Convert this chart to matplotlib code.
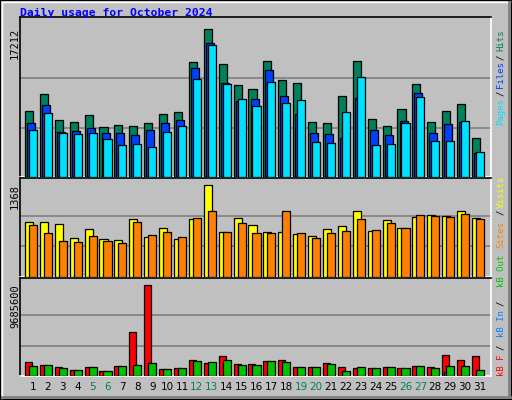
"""Webalizer-style daily usage chart for October 2024."""

import matplotlib
matplotlib.use("Agg")
import matplotlib.pyplot as plt
from matplotlib.patches import Rectangle
import numpy as np

days = list(range(1, 32))
weekend_days = [5, 6, 12, 13, 19, 20, 26, 27]

hits = [7676, 9653, 6629, 6397, 7211, 5815, 6048, 5931, 6280, 7327, 7560,
        13375, 17212, 13142, 10700, 10234, 13491, 11281, 10932, 6397, 6280,
        9420, 13491, 6745, 5931, 7908, 10816, 6397, 7676, 8490, 4536]
files = [6280, 8374, 5234, 5350, 5699, 5117, 5117, 4885, 5466, 6280, 6629,
         12677, 15584, 10932, 8839, 9071, 12444, 9420, 7327, 5117, 5001,
         4536, 9188, 5466, 4885, 6513, 9769, 5117, 6164, 6397, 2791]
pages = [5466, 7443, 5117, 5001, 5117, 4419, 3722, 3838, 3489, 5234, 5931,
         11397, 15352, 10816, 9071, 8257, 11049, 8606, 8955, 4071, 3954,
         7560, 11630, 3722, 3838, 6280, 9304, 4187, 4187, 6513, 2908]

visits = [818, 818, 788, 580, 714, 565, 550, 862, 595, 729, 565, 862, 1368,
          669, 877, 773, 669, 669, 639, 610, 714, 758, 981, 684, 848, 729,
          892, 922, 907, 981, 877]
sites = [773, 654, 535, 520, 610, 535, 506, 818, 625, 669, 595, 877, 981,
         669, 803, 654, 654, 981, 654, 580, 654, 684, 862, 699, 803, 729,
         922, 907, 892, 937, 862]

kb_f = [1490090, 1170785, 957915, 638610, 957915, 532175, 1064350, 4683140,
        9685600, 745045, 851480, 1702960, 1383655, 2128700, 1277220, 1277220,
        1596525, 1702960, 957915, 957915, 1383655, 957915, 851480, 851480,
        957915, 851480, 1064350, 957915, 2235135, 1702960, 2128700]
kb_in = [20000, 20000, 15000, 15000, 15000, 10000, 20000, 20000, 25000, 15000,
         15000, 25000, 25000, 25000, 20000, 20000, 25000, 25000, 15000, 15000,
         20000, 15000, 15000, 15000, 15000, 15000, 20000, 15000, 425000, 20000,
         20000]
kb_out = [1064350, 1170785, 851480, 638610, 957915, 532175, 1064350, 1170785,
          1383655, 745045, 851480, 1596525, 1490090, 1702960, 1170785, 1170785,
          1596525, 1490090, 957915, 957915, 1277220, 532175, 957915, 851480,
          957915, 851480, 1064350, 851480, 1064350, 1064350, 638610]

BG = "#C0C0C0"
W, H = 512, 400
MONO = "DejaVu Sans Mono"

fig = plt.figure(figsize=(W / 100, H / 100), dpi=100, facecolor=BG)


def fx(px):
    return px / W


def fy(py):
    return 1 - py / H


# raised outer frame
fig.patches.append(Rectangle((0, 0), 1, 1, transform=fig.transFigure,
                             fill=False, edgecolor="black", linewidth=1.5))
fig.add_artist(plt.Line2D([fx(1.5), fx(510)], [fy(1.5), fy(1.5)], color="white", lw=1))
fig.add_artist(plt.Line2D([fx(1.5), fx(1.5)], [fy(1.5), fy(398)], color="white", lw=1))
fig.add_artist(plt.Line2D([fx(2), fx(510)], [fy(397), fy(397)], color="#808080", lw=2))
fig.add_artist(plt.Line2D([fx(509), fx(509)], [fy(2), fy(397)], color="#808080", lw=2))

x = np.array(days, dtype=float)
day_px = 14.9


def make_panel(top, bottom):
    ax = fig.add_axes([fx(20), fy(bottom), fx(491) - fx(20), (bottom - top) / H])
    ax.set_facecolor(BG)
    ax.set_xlim((20 - 33) / day_px + 1, (491 - 33) / day_px + 1)
    ax.set_xticks([])
    ax.set_yticks([])
    for side in ("left", "top"):
        ax.spines[side].set_color("black")
        ax.spines[side].set_linewidth(1.2)
    for side in ("right", "bottom"):
        ax.spines[side].set_color("white")
        ax.spines[side].set_linewidth(1.2)
    return ax


def bars(ax, offset, width, values, color):
    ax.bar(x + offset, values, width=width, align="edge", color=color,
           edgecolor="black", linewidth=0.9, zorder=3)


def grid(ax, vmax):
    for frac in (1 / 3, 2 / 3):
        ax.axhline(vmax * frac, color="#808080", linewidth=1.2, zorder=1)


# top panel: hits / files / pages
ax1 = make_panel(17, 177)
vmax1 = max(hits)
ax1.set_ylim(0, vmax1 * 160 / 148)
grid(ax1, vmax1)
bars(ax1, -0.54, 0.54, hits, "#00805C")
bars(ax1, -0.40, 0.54, files, "#0040FF")
bars(ax1, -0.27, 0.54, pages, "#00E0FF")

# middle panel: visits / sites
ax2 = make_panel(178, 277)
vmax2 = max(visits)
ax2.set_ylim(0, vmax2 * 99 / 92)
grid(ax2, vmax2)
bars(ax2, -0.54, 0.54, visits, "#FFFF00")
bars(ax2, -0.27, 0.54, sites, "#FF8000")

# bottom panel: kB
ax3 = make_panel(278, 376)
vmax3 = max(kb_f)
ax3.set_ylim(0, vmax3 * 98 / 91)
grid(ax3, vmax3)
bars(ax3, -0.54, 0.47, kb_f, "#FF0000")
bars(ax3, -0.40, 0.15, kb_in, "#0080FF")
bars(ax3, -0.27, 0.54, kb_out, "#00C000")

# title
fig.text(fx(20), fy(13), "Daily usage for October 2024", family=MONO,
         fontsize=8.2, fontweight="bold", color="#0000FF", va="center", ha="left")

# left max labels
for label, top in ((str(max(hits)), 28), ("1368", 184), (str(max(kb_f)), 284)):
    fig.text(fx(15), fy(top), label, family=MONO, fontsize=7.5, rotation=90,
             ha="center", va="top", color="black")

# right legend labels
right_labels = [
    ("Hits", 40, "#00805C"), ("/", 57, "black"), ("Files", 75, "#0040FF"),
    ("/", 93, "black"), ("Pages", 112, "#00E0FF"),
    ("Visits", 192, "#FFFF00"), ("/", 212, "black"), ("Sites", 235, "#FF8000"),
    ("kB Out", 271, "#00C000"), ("/", 303, "black"), ("kB In", 324, "#0080FF"),
    ("/", 347, "black"), ("kB F", 365, "#FF0000"),
]
for text, cy, color in right_labels:
    fig.text(fx(501), fy(cy), text, family=MONO, fontsize=6.5, rotation=90,
             ha="center", va="center", color=color)

# day labels
for d in days:
    color = "#00805C" if d in weekend_days else "black"
    fig.text(fx(33 + day_px * (d - 1)), fy(387), str(d), fontsize=7.5,
             ha="center", va="center", color=color)

fig.savefig("out.png", dpi=100, facecolor=BG)
